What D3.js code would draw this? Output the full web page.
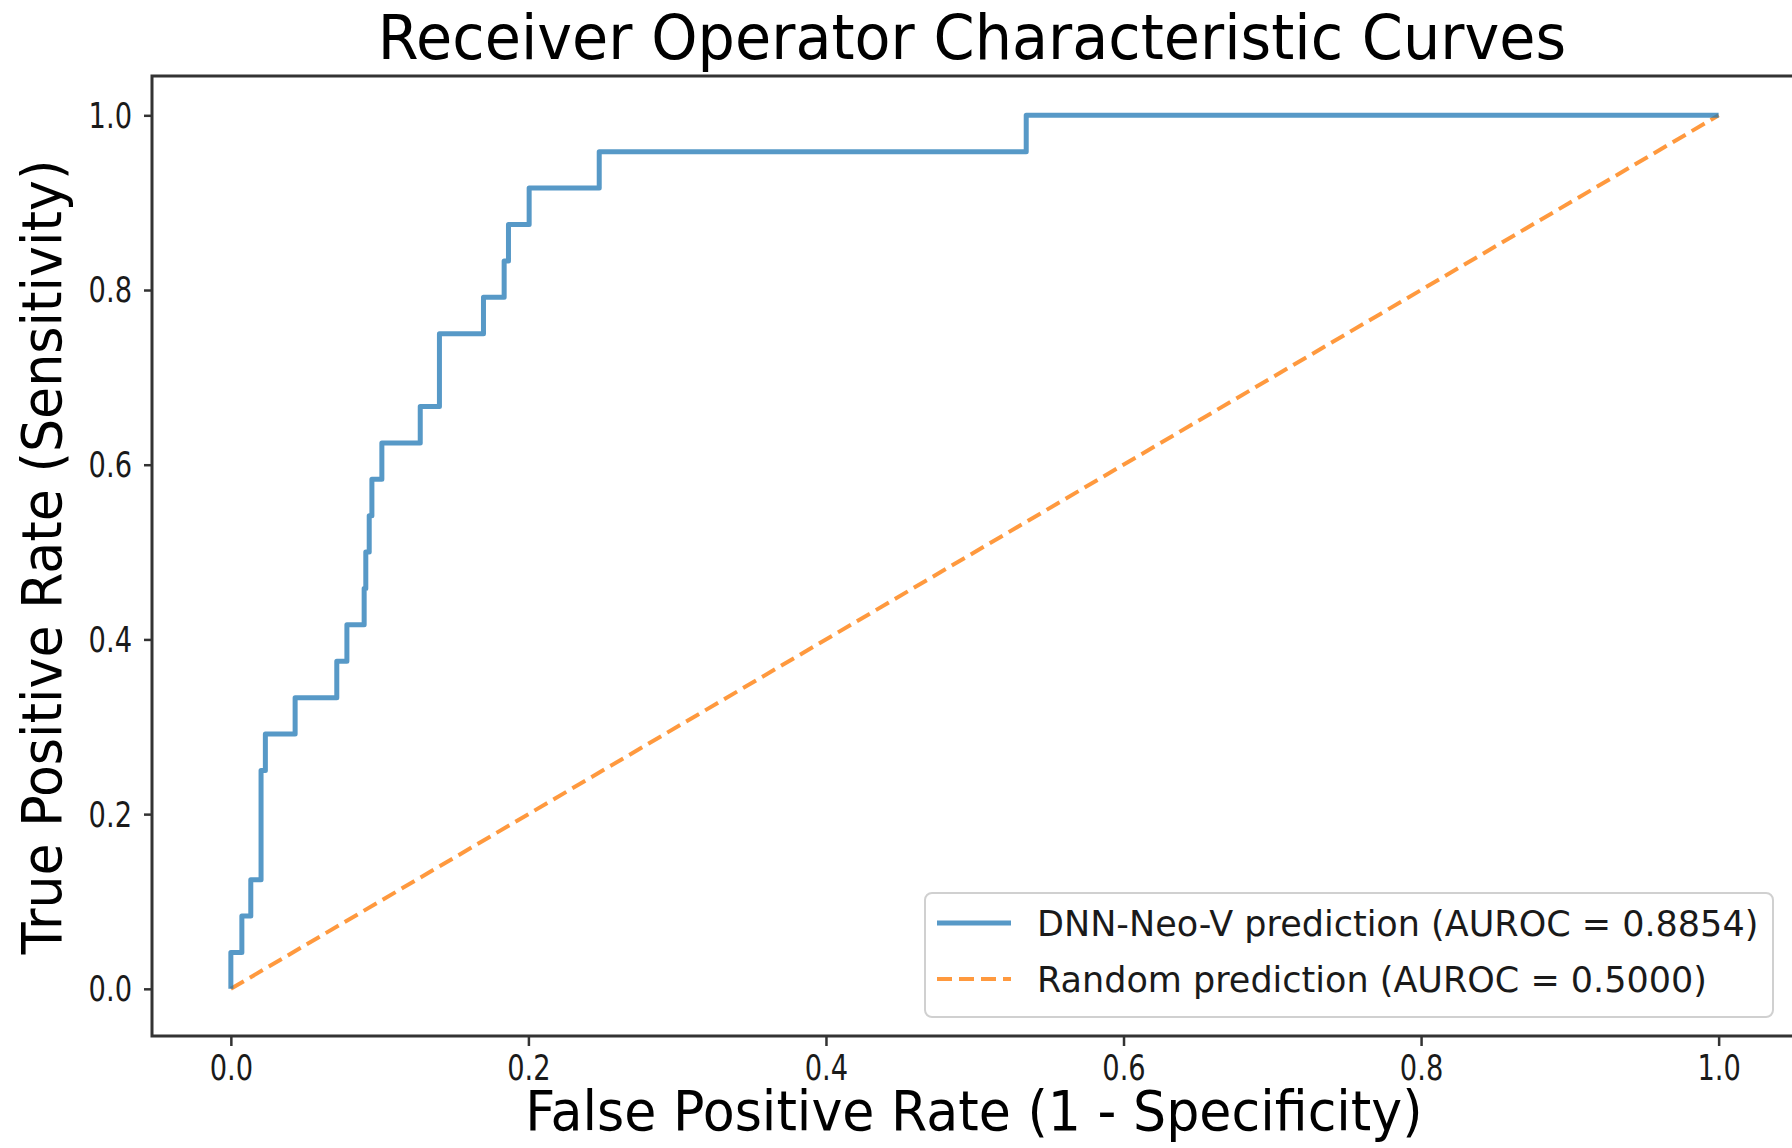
<!DOCTYPE html>
<html>
<head>
<meta charset="utf-8">
<script src="https://cdn.jsdelivr.net/npm/d3@7"></script>
<style>
  html, body { margin: 0; padding: 0; background: #fff; }
  svg { display: block; font-family: 'DejaVu Sans', sans-serif; }
</style>
</head>
<body>
<svg id="chart" width="1792" height="1148"></svg>
<script>
// ROC points (step curve, 24 positives)
const fprDnn = [0, 0, 0.0074, 0.0074, 0.0134, 0.0134, 0.0203, 0.0203, 0.0232, 0.0232,
  0.0432, 0.0432, 0.0712, 0.0712, 0.078, 0.078, 0.0896, 0.0896, 0.0907, 0.0907,
  0.093, 0.093, 0.0948, 0.0948, 0.1015, 0.1015, 0.1273, 0.1273, 0.1402, 0.1402,
  0.1698, 0.1698, 0.1837, 0.1837, 0.1866, 0.1866, 0.2005, 0.2005, 0.2476, 0.2476,
  0.5346, 0.5346, 1]
const tprDnn = [0, 0.0417, 0.0417, 0.0833, 0.0833, 0.125, 0.125, 0.25, 0.25, 0.2917,
  0.2917, 0.3333, 0.3333, 0.375, 0.375, 0.4167, 0.4167, 0.4583, 0.4583, 0.5,
  0.5, 0.5417, 0.5417, 0.5833, 0.5833, 0.625, 0.625, 0.6667, 0.6667, 0.75,
  0.75, 0.7917, 0.7917, 0.8333, 0.8333, 0.875, 0.875, 0.9167, 0.9167, 0.9583,
  0.9583, 1, 1]
const fprRandom = [0, 1]
const tprRandom = [0, 1]

const xTicks = [0, 0.2, 0.4, 0.6, 0.8, 1.0]
const yTicks = [0, 0.2, 0.4, 0.6, 0.8, 1.0]
const legendLabels = ['DNN-Neo-V prediction (AUROC = 0.8854)', 'Random prediction (AUROC = 0.5000)']

const titleText = 'Receiver Operator Characteristic Curves'
const xLabelText = 'False Positive Rate (1 - Specificity)'
const yLabelText = 'True Positive Rate (Sensitivity)'

const BLUE = '#1f77b4'
const ORANGE = '#ff7f0e'
const SPINE = '#333'
const TICK_SQUEEZE = 0.78

const svg = d3.select('#chart')

const x = d3.scaleLinear().domain([-0.053, 1.052]).range([152, 1796])
const y = d3.scaleLinear().domain([-0.054, 1.045]).range([1036, 76])

// curves
const line = d3.line().x(d => x(d[0])).y(d => y(d[1]))

svg.append('path')
  .datum(d3.zip(fprRandom, tprRandom))
  .attr('d', line)
  .attr('fill', 'none')
  .attr('stroke', ORANGE)
  .attr('stroke-opacity', 0.8)
  .attr('stroke-width', 4)
  .attr('stroke-dasharray', '15 7')

svg.append('path')
  .datum(d3.zip(fprDnn, tprDnn))
  .attr('d', line)
  .attr('fill', 'none')
  .attr('stroke', BLUE)
  .attr('stroke-opacity', 0.75)
  .attr('stroke-width', 5)
  .attr('stroke-linejoin', 'round')

// axes
const xAxis = svg.append('g')
  .attr('transform', `translate(0,${y.range()[0]})`)
  .call(d3.axisBottom(x).tickValues(xTicks).tickFormat(d3.format('.1f'))
    .tickSize(10).tickPadding(9).tickSizeOuter(0))

const yAxis = svg.append('g')
  .attr('transform', `translate(${x.range()[0]},0)`)
  .call(d3.axisLeft(y).tickValues(yTicks).tickFormat(d3.format('.1f'))
    .tickSize(8).tickSizeOuter(0))

for (let g of [xAxis, yAxis]) {
  g.select('.domain').remove()
  g.selectAll('.tick line').attr('stroke', SPINE).attr('stroke-width', 2.5)
  g.selectAll('.tick text')
    .attr('fill', '#1a1a1a')
    .style('font-size', '35px')
    .style('font-family', "'DejaVu Sans', sans-serif")
    .attr('transform', `scale(${TICK_SQUEEZE},1)`)
}
yAxis.selectAll('.tick text').attr('x', -20 / TICK_SQUEEZE).attr('dy', '0.34em')

// spines
const [x0, x1] = x.range()
const [yb, yt] = y.range()
svg.append('path')
  .attr('d', `M${x1},${yt}H${x0}V${yb}H${x1}`)
  .attr('fill', 'none')
  .attr('stroke', SPINE)
  .attr('stroke-width', 3)
  .attr('stroke-linecap', 'square')

// title and axis labels
svg.append('text')
  .attr('transform', `translate(972,59) scale(0.95,1)`)
  .attr('text-anchor', 'middle')
  .style('font-size', '62px')
  .attr('fill', '#000')
  .text(titleText)

svg.append('text')
  .attr('transform', `translate(974,1130) scale(0.95,1)`)
  .attr('text-anchor', 'middle')
  .style('font-size', '55px')
  .attr('fill', '#000')
  .text(xLabelText)

svg.append('text')
  .attr('transform', `translate(61,557) rotate(-90) scale(0.95,1)`)
  .attr('text-anchor', 'middle')
  .style('font-size', '55px')
  .attr('fill', '#000')
  .text(yLabelText)

// legend
const legend = svg.append('g').attr('transform', 'translate(925,893)')
legend.append('rect')
  .attr('width', 848)
  .attr('height', 124)
  .attr('rx', 7)
  .attr('fill', '#fff')
  .attr('stroke', '#d0d0d0')
  .attr('stroke-width', 2)

const legendStyles = [
  { color: BLUE, dash: null, width: 5, opacity: 0.75 },
  { color: ORANGE, dash: '15 7', width: 4, opacity: 0.8 }
]

legendLabels.forEach((label, i) => {
  let st = legendStyles[i]
  let cy = 30 + i * 56
  legend.append('line')
    .attr('x1', 12).attr('x2', 86)
    .attr('y1', cy).attr('y2', cy)
    .attr('stroke', st.color)
    .attr('stroke-opacity', st.opacity)
    .attr('stroke-width', st.width)
    .attr('stroke-dasharray', st.dash)
  legend.append('text')
    .attr('x', 112)
    .attr('y', cy + 13)
    .style('font-size', '35px')
    .attr('fill', '#1a1a1a')
    .text(label)
})
</script>
</body>
</html>
